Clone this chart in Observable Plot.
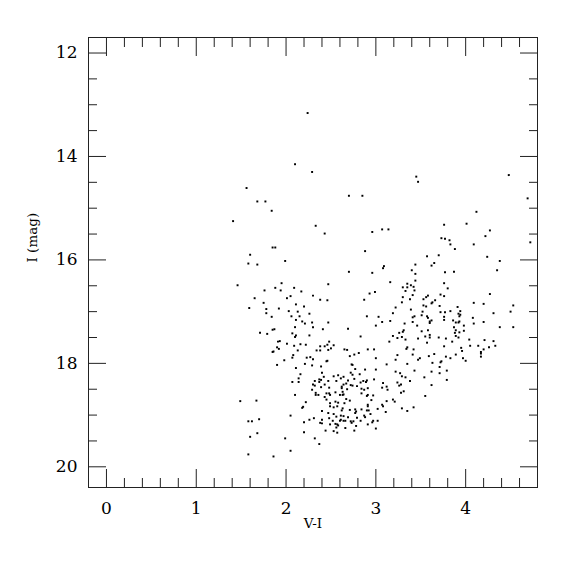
<!DOCTYPE html>
<html><head><meta charset="utf-8">
<script src="https://cdn.jsdelivr.net/npm/d3@7"></script>
<script src="https://cdn.jsdelivr.net/npm/@observablehq/plot@0.6"></script>
<style>body{margin:0;background:#fff;}</style>
</head><body><div id="chart"></div>
<script>
// V-I colour index of each star
const vi = [
2.24,2.10,2.29,1.56,1.68,1.77,1.84,1.41,2.33,2.43,2.70,2.85,2.96,3.07,3.14,3.45,3.47,3.76,4.01,4.12,4.27,4.48,4.69,
1.85,1.88,1.60,1.58,1.68,1.99,1.46,1.95,1.88,1.94,1.76,2.09,2.17,2.47,1.65,2.01,2.05,2.30,2.38,2.46,1.75,2.11,2.20,1.59,1.78,1.92,
2.88,3.57,3.65,3.62,3.44,3.09,3.08,2.70,2.96,3.40,3.44,3.44,3.16,3.35,3.39,3.42,3.30,3.35,3.33,3.43,2.99,2.93,3.41,3.30,3.58,3.56,3.53,3.38,2.87,3.29,3.66,3.63,3.62,3.22,3.53,3.56,3.39,
4.22,3.73,3.77,3.82,3.83,4.09,3.88,4.72,3.70,4.24,4.38,3.77,3.87,4.35,3.76,3.80,3.72,3.76,4.27,3.71,4.09,4.20,4.53,3.91,
1.78,1.84,2.03,2.13,2.26,2.06,2.15,2.11,2.18,2.21,2.29,2.47,2.10,2.30,2.41,1.85,1.87,1.71,1.79,2.07,2.11,2.10,2.26,1.93,1.91,2.01,2.09,2.16,2.22,2.48,2.46,2.43,1.90,1.92,2.38,2.50,2.47,2.34,2.38,2.13,1.86,1.85,2.08,2.07,2.23,2.27,2.30,2.46,2.45,1.98,2.21,1.90,2.29,2.39,2.11,2.40,2.16,2.42,2.14,2.37,2.39,2.32,2.07,2.14,2.37,2.47,2.30,2.32,2.43,2.39,2.29,2.48,
3.19,3.52,3.51,3.43,3.41,3.57,3.58,2.90,3.03,3.62,3.60,3.60,3.07,3.16,3.41,3.32,3.00,3.46,2.69,3.31,3.30,3.26,3.51,3.58,3.60,3.55,3.60,2.83,3.19,3.29,3.24,3.33,3.47,3.15,3.57,2.53,3.35,3.34,3.42,2.65,2.68,2.98,2.91,2.81,2.76,2.71,3.41,3.65,3.59,3.24,3.00,3.49,3.47,3.22,2.73,2.74,3.12,3.35,3.63,2.88,2.77,3.00,3.22,3.27,3.29,3.43,3.62,2.72,2.82,2.74,2.53,2.58,2.64,2.61,2.76,3.33,3.54,2.69,2.56,2.86,2.90,2.89,2.83,2.98,3.24,3.38,3.08,2.67,2.64,2.62,2.62,2.72,2.74,2.79,3.28,3.26,3.62,2.84,2.87,2.91,3.07,3.12,3.13,2.68,
3.72,3.77,3.83,3.94,3.92,3.94,3.93,3.76,3.76,4.08,4.31,4.50,3.86,3.89,3.92,3.93,4.09,4.20,3.98,3.87,4.38,4.53,3.89,3.93,3.88,3.98,3.70,3.78,3.89,3.92,4.04,4.21,4.31,3.85,3.76,4.05,4.14,3.95,4.26,4.33,3.96,4.20,4.17,4.17,3.89,3.78,3.83,4.17,3.97,4.00,3.73,3.72,3.71,3.79,3.71,3.79,
2.10,2.33,2.33,2.36,2.45,2.48,2.49,2.43,2.45,1.49,1.67,2.22,2.49,2.19,2.18,2.49,2.40,2.47,2.05,2.48,2.31,2.26,2.40,1.70,1.62,1.58,2.20,2.38,2.40,2.49,2.44,1.68,2.20,1.60,1.99,2.32,2.37,2.05,1.58,1.86,
2.55,2.63,2.60,2.63,2.64,2.67,2.55,2.58,2.65,2.71,2.84,2.91,2.90,2.97,2.95,3.19,3.21,3.12,3.28,3.31,3.55,2.57,2.53,2.91,2.91,3.07,3.08,2.63,2.62,2.71,2.77,2.78,2.77,2.84,2.90,2.92,3.02,3.11,3.29,3.35,3.42,2.53,2.94,2.87,2.88,2.56,2.61,2.64,2.69,2.79,2.52,2.61,2.64,2.66,2.60,2.72,2.75,2.73,2.83,2.97,2.96,3.02,2.55,2.57,2.58,2.56,2.78,2.91,3.00,2.53,2.66,2.76,2.57
];
// I magnitude of each star
const imag = [
13.16,14.15,14.30,14.61,14.87,14.87,15.05,15.25,15.34,15.49,14.76,14.76,15.46,15.41,15.41,14.39,14.49,15.32,15.30,15.07,15.43,14.36,14.81,
15.76,15.76,15.90,16.07,16.09,16.02,16.49,16.45,16.54,16.59,16.59,16.54,16.61,16.47,16.74,16.74,16.70,16.69,16.77,16.78,16.83,16.86,16.90,16.93,16.95,16.94,
15.83,15.93,16.06,16.11,16.09,16.12,16.16,16.23,16.25,16.20,16.27,16.40,16.43,16.46,16.49,16.52,16.53,16.53,16.60,16.59,16.62,16.65,16.68,16.72,16.69,16.72,16.76,16.76,16.77,16.82,16.78,16.82,16.84,16.92,16.88,16.90,16.96,
15.54,15.58,15.59,15.62,15.70,15.70,15.79,15.66,15.91,15.94,16.02,16.24,16.23,16.20,16.45,16.55,16.67,16.70,16.66,16.89,16.83,16.85,16.88,16.91,
17.03,17.10,16.99,17.00,17.04,17.09,17.09,17.16,17.19,17.23,17.21,17.21,17.30,17.30,17.34,17.35,17.34,17.41,17.43,17.42,17.46,17.49,17.46,17.57,17.58,17.62,17.66,17.63,17.64,17.58,17.64,17.67,17.69,17.72,17.67,17.71,17.74,17.75,17.75,17.75,17.77,17.78,17.84,17.89,17.89,17.88,17.92,17.95,17.96,17.94,18.01,18.03,18.04,18.06,18.09,18.18,18.21,18.26,18.29,18.31,18.32,18.34,18.36,18.36,18.36,18.34,18.41,18.43,18.41,18.46,18.51,18.47,
17.03,17.00,17.07,17.09,17.11,17.09,17.12,17.09,17.10,17.17,17.19,17.22,17.20,17.18,17.20,17.23,17.27,17.27,17.33,17.36,17.39,17.41,17.38,17.36,17.45,17.48,17.50,17.48,17.47,17.49,17.51,17.54,17.52,17.58,17.60,17.65,17.69,17.72,17.73,17.73,17.74,17.73,17.73,17.80,17.83,17.86,17.83,17.82,17.86,17.84,17.90,17.90,17.93,17.93,18.02,18.03,18.02,18.01,17.99,18.12,18.11,18.12,18.16,18.19,18.25,18.14,18.16,18.18,18.21,18.22,18.25,18.23,18.26,18.29,18.30,18.27,18.27,18.33,18.34,18.34,18.33,18.36,18.37,18.31,18.37,18.34,18.38,18.39,18.41,18.45,18.48,18.42,18.43,18.44,18.41,18.43,18.42,18.49,18.51,18.48,18.47,18.45,18.51,18.50,
17.01,17.01,16.99,16.99,17.04,17.06,17.09,17.10,17.16,17.12,17.03,17.00,17.17,17.21,17.21,17.19,17.23,17.20,17.27,17.30,17.30,17.30,17.36,17.40,17.41,17.37,17.50,17.52,17.47,17.50,17.54,17.55,17.57,17.58,17.67,17.66,17.66,17.70,17.69,17.66,17.76,17.73,17.78,17.81,17.83,17.87,17.90,17.87,17.90,17.95,17.96,17.98,18.07,18.14,18.19,18.32,
18.61,18.57,18.61,18.61,18.58,18.58,18.61,18.65,18.70,18.73,18.72,18.75,18.77,18.84,18.86,18.83,18.92,18.96,19.01,19.06,19.06,19.09,19.09,19.08,19.12,19.12,19.14,19.15,19.16,19.18,19.30,19.35,19.33,19.42,19.45,19.45,19.56,19.69,19.76,19.80,
18.56,18.55,18.61,18.61,18.60,18.69,18.74,18.76,18.77,18.72,18.58,18.61,18.63,18.62,18.71,18.70,18.74,18.73,18.57,18.54,18.63,18.83,18.85,18.80,18.83,18.80,18.83,18.87,18.91,18.90,18.89,18.93,18.96,18.89,18.91,18.91,18.88,18.94,18.87,18.92,18.85,18.98,18.98,19.01,19.04,19.03,19.01,19.02,19.04,19.05,19.11,19.09,19.11,19.11,19.11,19.12,19.12,19.15,19.11,19.11,19.14,19.11,19.17,19.18,19.20,19.24,19.21,19.18,19.26,19.31,19.25,19.30,19.34
];
const xMajor = [0, 1, 2, 3, 4];
const xMinor = [0.2, 0.4, 0.6, 0.8, 1.2, 1.4, 1.6, 1.8, 2.2, 2.4, 2.6, 2.8, 3.2, 3.4, 3.6, 3.8, 4.2, 4.4, 4.6];
const yMajor = [12, 14, 16, 18, 20];
const yMinor = [12.5, 13, 13.5, 14.5, 15, 15.5, 16.5, 17, 17.5, 18.5, 19, 19.5];
const xLabel = "V-I";
const yLabel = "I (mag)";

const data = vi.map((v, i) => ({vi: v, I: imag[i]}));
const font = "DejaVu Serif";
const tk = {stroke: "#222", strokeWidth: 1, fill: "none"};

const chart = Plot.plot({
  width: 575, height: 575,
  marginLeft: 88, marginRight: 38, marginTop: 37, marginBottom: 88,
  style: {fontFamily: font, fontSize: "16px", background: "white", color: "black"},
  x: {domain: [-0.2, 4.8], label: null},
  y: {domain: [20.4, 11.7], label: null},
  marks: [
    Plot.frame({stroke: "#222", strokeWidth: 1}),
    Plot.axisX(xMajor, {anchor: "bottom", tickSize: -18, ...tk}),
    Plot.axisX(xMinor, {anchor: "bottom", tickSize: -9, ...tk}),
    Plot.axisX(xMajor, {anchor: "top", tickSize: -18, ...tk}),
    Plot.axisX(xMinor, {anchor: "top", tickSize: -9, ...tk}),
    Plot.axisY(yMajor, {anchor: "left", tickSize: -18, ...tk}),
    Plot.axisY(yMinor, {anchor: "left", tickSize: -9, ...tk}),
    Plot.axisY(yMajor, {anchor: "right", tickSize: -18, ...tk}),
    Plot.axisY(yMinor, {anchor: "right", tickSize: -9, ...tk}),
    Plot.axisX(xMajor, {anchor: "bottom", tickSize: 0, tickPadding: 14, fontSize: 17, fill: "black", tickFormat: d3.format("d")}),
    Plot.axisY(yMajor, {anchor: "left", tickSize: 0, tickPadding: 11, fontSize: 17, fill: "black", tickFormat: d3.format("d")}),
    Plot.text([xLabel], {frameAnchor: "bottom", dy: 40, fontSize: 13.5, fill: "black"}),
    Plot.text([yLabel], {frameAnchor: "left", dx: -56, rotate: -90, fontSize: 13.5, fill: "black"}),
    Plot.dot(data, {x: "vi", y: "I", r: 1.1, symbol: "square", fill: "black", stroke: "none"})
  ]
});
document.getElementById("chart").appendChild(chart);
</script>
</body></html>
